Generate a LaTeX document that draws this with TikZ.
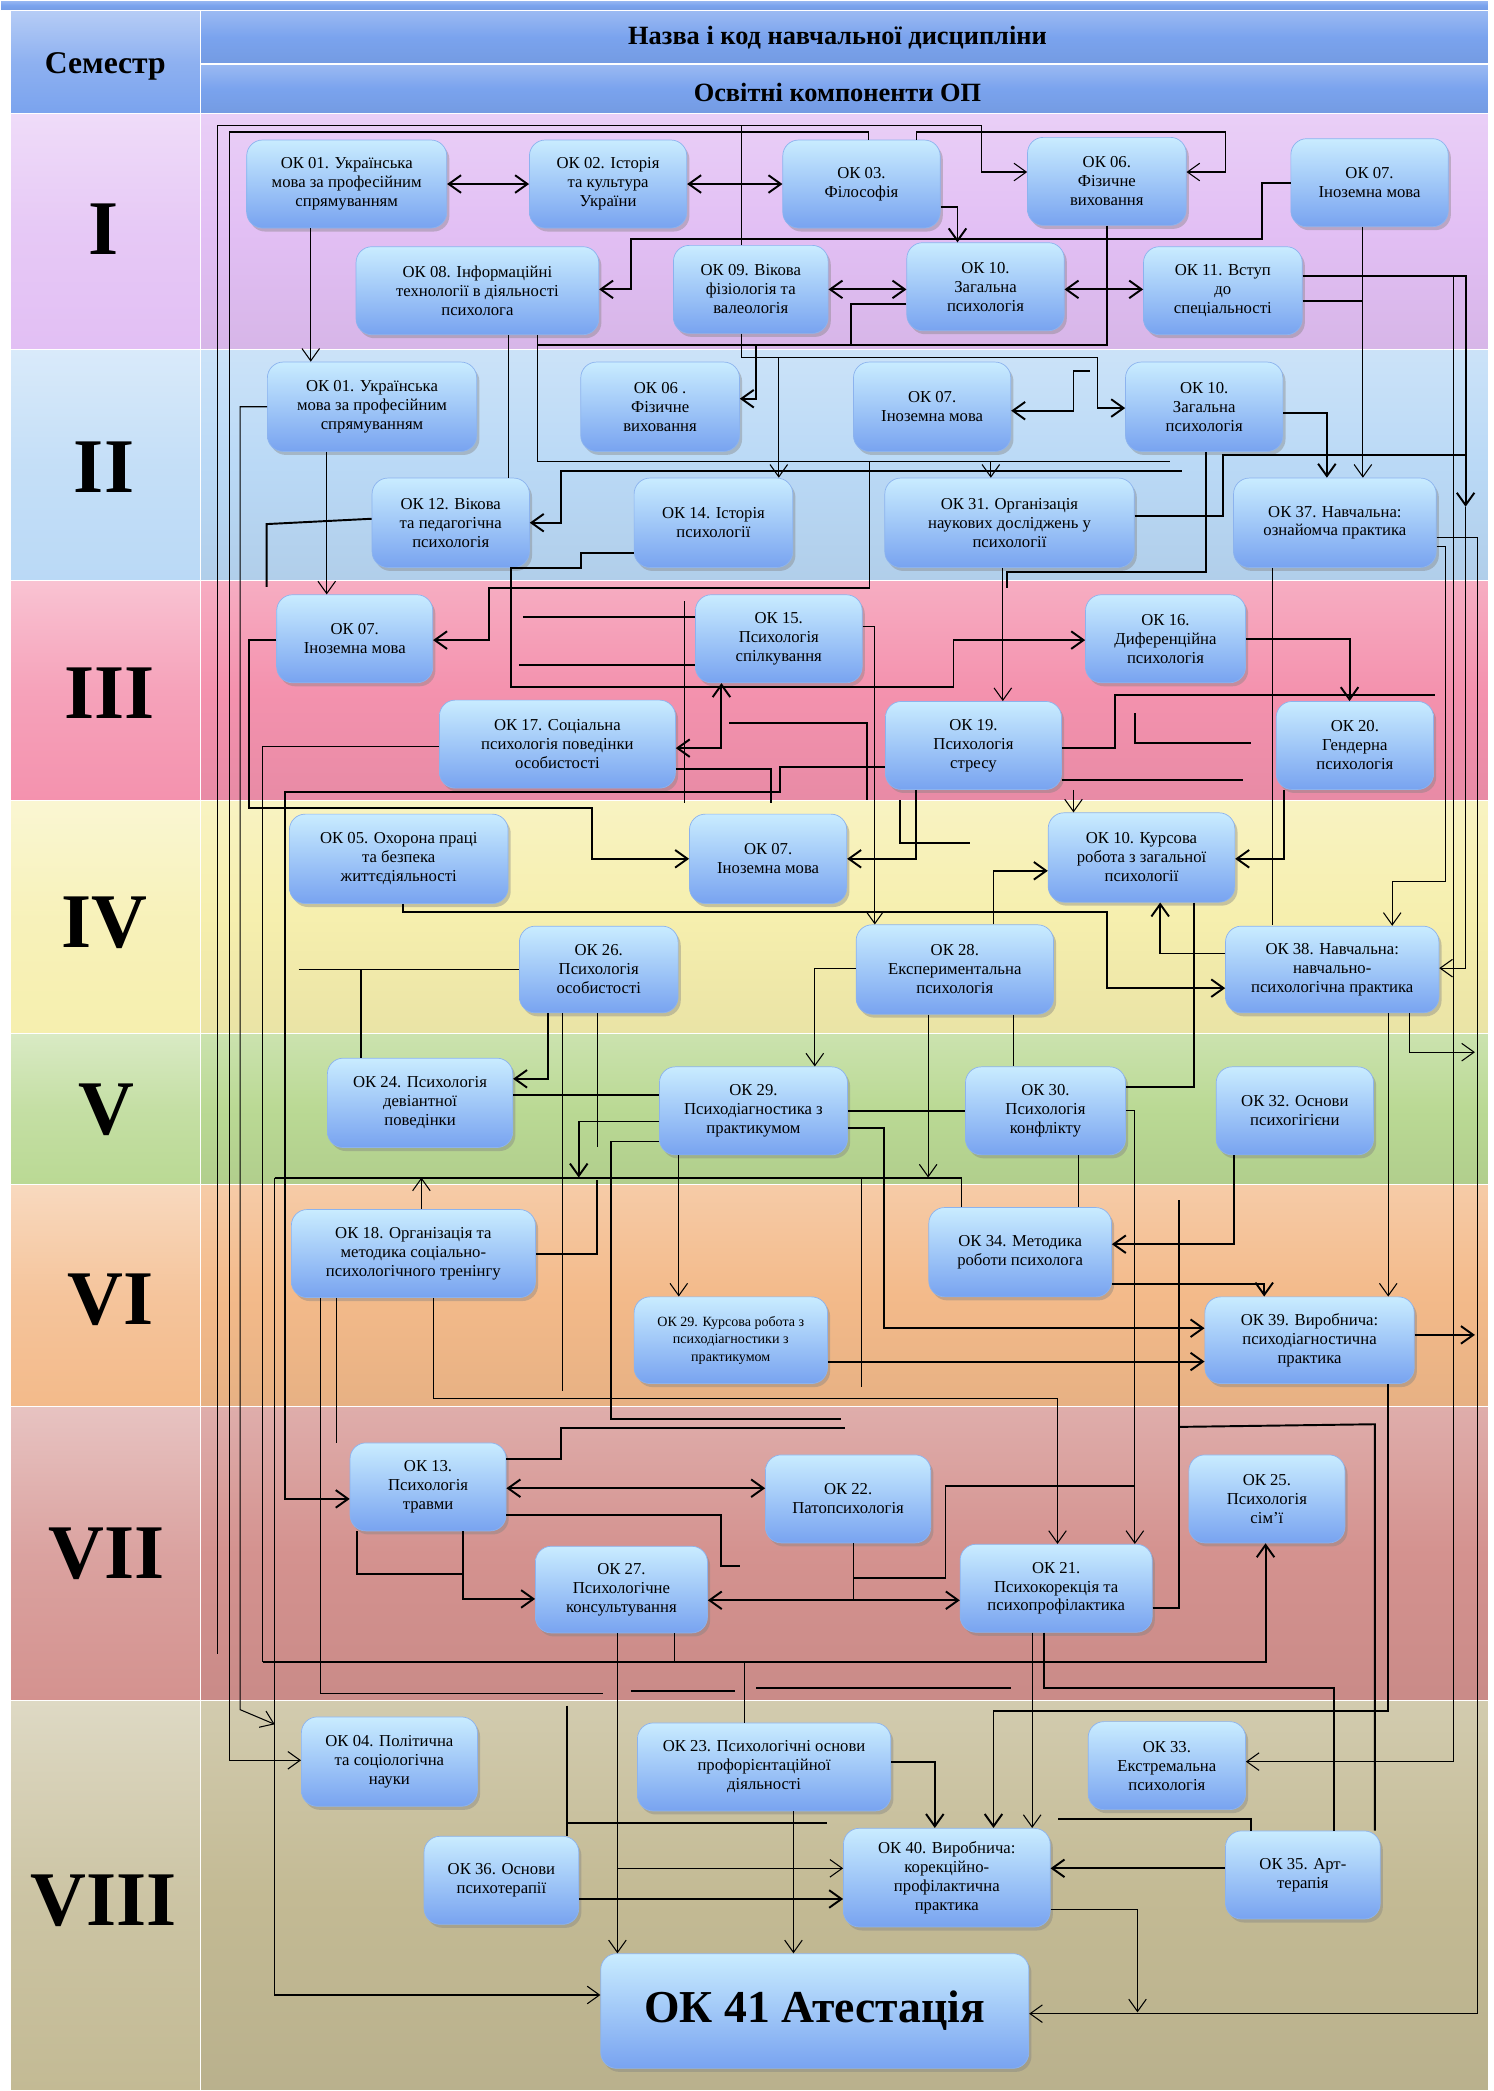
\documentclass[tikz,border=0pt]{standalone}
\usepackage{fontspec}
\setmainfont{Liberation Serif}
\usetikzlibrary{arrows.meta,shadows}
\definecolor{hdr}{HTML}{7AA3EE}
\definecolor{semI}{HTML}{E2BFF4}
\definecolor{semII}{HTML}{BAD9F6}
\definecolor{semIII}{HTML}{F492AE}
\definecolor{semIV}{HTML}{F6EFAE}
\definecolor{semV}{HTML}{BAD994}
\definecolor{semVI}{HTML}{F3BA8A}
\definecolor{semVII}{HTML}{D4928F}
\definecolor{semVIII}{HTML}{C3BA94}
\definecolor{okTop}{HTML}{C9ECFF}
\definecolor{okBot}{HTML}{78A3F0}
\definecolor{okEdge}{HTML}{8CB3EE}
\newcommand\pu{0.026667cm}
\tikzset{
  okbox/.style={rounded corners=9pt,top color=okTop,bottom color=okBot,draw=okEdge,line width=0.4pt,
    drop shadow={shadow xshift=1.5pt,shadow yshift=-2pt,opacity=0.4},
    align=center,inner sep=1pt,font=\fontsize{9.5}{10.8}\selectfont},
  band/.style={top color=#1!75!white,bottom color=#1!95!black,middle color=#1,draw=white,line width=0.6pt},
  cell/.style={top color=#1!55!white,bottom color=#1,middle color=#1!85!white,draw=white,line width=0.6pt},
  semtxt/.style={font=\fontsize{44}{44}\selectfont\bfseries},
  hdrtxt/.style={font=\fontsize{15}{17}\selectfont\bfseries},
  ln/.style={line width=0.6pt},
  thk/.style={line width=1.1pt},
}
\begin{document}
\begin{tikzpicture}
[x=0.026667cm,y=-0.026667cm,>={Straight Barb[length=7pt,width=10pt]}]
\useasboundingbox (0,0) rectangle (1120,1568);
\fill[white] (0,0) rectangle (1120,1568);

% header
\shadedraw[band=hdr] (0,0) rectangle (1116,8);
\shadedraw[cell=hdr] (8,8) rectangle (150,85);
\shadedraw[band=hdr] (150,8) rectangle (1116,48);
\shadedraw[band=hdr] (150,48) rectangle (1116,85);
\node[font=\fontsize{18}{20}\selectfont\bfseries] (sem) at (79,50) {Семестр};
\node[hdrtxt] (hname) at (628,28) {Назва і код навчальної дисципліни};
\node[hdrtxt] (hcomp) at (628,69) {Освітні компоненти ОП};

% semesters
\shadedraw[cell=semI] (8,85) rectangle (150,262);
\shadedraw[band=semI] (150,85) rectangle (1116,262);
\shadedraw[cell=semII] (8,262) rectangle (150,435);
\shadedraw[band=semII] (150,262) rectangle (1116,435);
\shadedraw[cell=semIII] (8,435) rectangle (150,600);
\shadedraw[band=semIII] (150,435) rectangle (1116,600);
\shadedraw[cell=semIV] (8,600) rectangle (150,775);
\shadedraw[band=semIV] (150,600) rectangle (1116,775);
\shadedraw[cell=semV] (8,775) rectangle (150,888);
\shadedraw[band=semV] (150,775) rectangle (1116,888);
\shadedraw[cell=semVI] (8,888) rectangle (150,1055);
\shadedraw[band=semVI] (150,888) rectangle (1116,1055);
\shadedraw[cell=semVII] (8,1055) rectangle (150,1275);
\shadedraw[band=semVII] (150,1055) rectangle (1116,1275);
\shadedraw[cell=semVIII] (8,1275) rectangle (150,1568);
\shadedraw[band=semVIII] (150,1275) rectangle (1116,1568);
\node[semtxt] (s1) at (78,172) {I};
\node[semtxt] (s2) at (78,350) {II};
\node[semtxt] (s3) at (82,520) {III};
\node[semtxt] (s4) at (78,692) {IV};
\node[semtxt] (s5) at (80,832) {V};
\node[semtxt] (s6) at (83,975) {VI};
\node[semtxt] (s7) at (80,1165) {VII};
\node[semtxt] (s8) at (78,1425) {VIII};

% I
\node[okbox,minimum width=150*\pu,minimum height=66*\pu] (a01) at (260,138) {ОК 01. Українська\\мова за професійним\\спрямуванням};
\node[okbox,minimum width=118*\pu,minimum height=66*\pu] (a02) at (456,138) {ОК 02. Історія\\та культура\\України};
\node[okbox,minimum width=118*\pu,minimum height=66*\pu] (a03) at (646,138) {ОК 03.\\Філософія};
\node[okbox,minimum width=119*\pu,minimum height=66*\pu] (a06) at (830,136) {ОК 06.\\Фізичне\\виховання};
\node[okbox,minimum width=118*\pu,minimum height=66*\pu] (a07) at (1027,137) {ОК 07.\\Іноземна мова};
\node[okbox,minimum width=182*\pu,minimum height=66*\pu] (a08) at (358,218) {ОК 08. Інформаційні\\технології в діяльності\\психолога};
\node[okbox,minimum width=116*\pu,minimum height=66*\pu] (a09) at (563,217) {ОК 09. Вікова\\фізіологія та\\валеологія};
\node[okbox,minimum width=118*\pu,minimum height=66*\pu] (a10) at (739,215) {ОК 10.\\Загальна\\психологія};
\node[okbox,minimum width=119*\pu,minimum height=66*\pu] (a11) at (917,218) {ОК 11. Вступ\\до\\спеціальності};

% II
\node[okbox,minimum width=157*\pu,minimum height=67*\pu] (b01) at (279,305) {ОК 01. Українська\\мова за професійним\\спрямуванням};
\node[okbox,minimum width=119*\pu,minimum height=67*\pu] (b06) at (495,305) {ОК 06 .\\Фізичне\\виховання};
\node[okbox,minimum width=118*\pu,minimum height=67*\pu] (b07) at (699,305) {ОК 07.\\Іноземна мова};
\node[okbox,minimum width=118*\pu,minimum height=67*\pu] (b10) at (903,305) {ОК 10.\\Загальна\\психологія};
\node[okbox,minimum width=118*\pu,minimum height=67*\pu] (b12) at (338,392) {ОК 12. Вікова\\та педагогічна\\психологія};
\node[okbox,minimum width=119*\pu,minimum height=67*\pu] (b14) at (535,392) {ОК 14. Історія\\психології};
\node[okbox,minimum width=187*\pu,minimum height=67*\pu] (b31) at (757,392) {ОК 31. Організація\\наукових досліджень у\\психології};
\node[okbox,minimum width=152*\pu,minimum height=67*\pu] (b37) at (1001,392) {ОК 37. Навчальна:\\ознайомча практика};

% III
\node[okbox,minimum width=117*\pu,minimum height=66*\pu] (c07) at (266,479) {ОК 07.\\Іноземна мова};
\node[okbox,minimum width=125*\pu,minimum height=66*\pu] (c15) at (584,479) {ОК 15.\\Психологія\\спілкування};
\node[okbox,minimum width=120*\pu,minimum height=66*\pu] (c16) at (874,479) {ОК 16.\\Диференційна\\психологія};
\node[okbox,minimum width=177*\pu,minimum height=66*\pu] (c17) at (418,558) {ОК 17. Соціальна\\психологія поведінки\\особистості};
\node[okbox,minimum width=132*\pu,minimum height=66*\pu] (c19) at (730,559) {ОК 19.\\Психологія\\стресу};
\node[okbox,minimum width=118*\pu,minimum height=66*\pu] (c20) at (1016,559) {ОК 20.\\Гендерна\\психологія};

% IV
\node[okbox,minimum width=164*\pu,minimum height=67*\pu] (d05) at (299,644) {ОК 05. Охорона праці\\та безпека\\життєдіяльності};
\node[okbox,minimum width=118*\pu,minimum height=67*\pu] (d07) at (576,644) {ОК 07.\\Іноземна мова};
\node[okbox,minimum width=140*\pu,minimum height=67*\pu] (d10) at (856,643) {ОК 10. Курсова\\робота з загальної\\психології};
\node[okbox,minimum width=119*\pu,minimum height=65*\pu] (d26) at (449,727) {ОК 26.\\Психологія\\особистості};
\node[okbox,minimum width=148*\pu,minimum height=67*\pu] (d28) at (716,727) {ОК 28.\\Експериментальна\\психологія};
\node[okbox,minimum width=160*\pu,minimum height=65*\pu] (d38) at (999,727) {ОК 38. Навчальна:\\навчально-\\психологічна практика};

% V
\node[okbox,minimum width=139*\pu,minimum height=67*\pu] (e24) at (315,827) {ОК 24. Психологія\\девіантної\\поведінки};
\node[okbox,minimum width=141*\pu,minimum height=66*\pu] (e29) at (565,833) {ОК 29.\\Психодіагностика з\\практикумом};
\node[okbox,minimum width=120*\pu,minimum height=66*\pu] (e30) at (784,833) {ОК 30.\\Психологія\\конфлікту};
\node[okbox,minimum width=118*\pu,minimum height=66*\pu] (e32) at (971,833) {ОК 32. Основи\\психогігієни};

% VI
\node[okbox,minimum width=183*\pu,minimum height=66*\pu] (f18) at (310,940) {ОК 18. Організація та\\методика соціально-\\психологічного тренінгу};
\node[okbox,minimum width=137*\pu,minimum height=67*\pu] (f34) at (765,939) {ОК 34. Методика\\роботи психолога};
\node[okbox,minimum width=145*\pu,minimum height=65*\pu,font=\fontsize{8}{10}\selectfont] (f29) at (548,1005) {ОК 29. Курсова робота з\\психодіагностики з\\практикумом};
\node[okbox,minimum width=157*\pu,minimum height=65*\pu] (f39) at (982,1005) {ОК 39. Виробнича:\\психодіагностична\\практика};

% VII
\node[okbox,minimum width=117*\pu,minimum height=66*\pu] (g13) at (321,1115) {ОК 13.\\Психологія\\травми};
\node[okbox,minimum width=124*\pu,minimum height=66*\pu] (g22) at (636,1124) {ОК 22.\\Патопсихологія};
\node[okbox,minimum width=117*\pu,minimum height=66*\pu] (g25) at (950,1124) {ОК 25.\\Психологія\\сім’ї};
\node[okbox,minimum width=129*\pu,minimum height=65*\pu] (g27) at (466,1192) {ОК 27.\\Психологічне\\консультування};
\node[okbox,minimum width=144*\pu,minimum height=66*\pu] (g21) at (792,1191) {ОК 21.\\Психокорекція та\\психопрофілактика};

% VIII
\node[okbox,minimum width=132*\pu,minimum height=67*\pu] (h04) at (292,1321) {ОК 04. Політична\\та соціологічна\\науки};
\node[okbox,minimum width=190*\pu,minimum height=66*\pu] (h23) at (573,1325) {ОК 23. Психологічні основи\\профорієнтаційної\\діяльності};
\node[okbox,minimum width=118*\pu,minimum height=66*\pu] (h33) at (875,1324) {ОК 33.\\Екстремальна\\психологія};
\node[okbox,minimum width=116*\pu,minimum height=66*\pu] (h36) at (376,1410) {ОК 36. Основи\\психотерапії};
\node[okbox,minimum width=155*\pu,minimum height=74*\pu] (h40) at (710,1408) {ОК 40. Виробнича:\\корекційно-\\профілактична\\практика};
\node[okbox,minimum width=116*\pu,minimum height=66*\pu] (h35) at (977,1406) {ОК 35. Арт-\\терапія};
\node[okbox,minimum width=321*\pu,minimum height=86*\pu,font=\fontsize{26}{28}\selectfont\bfseries] (h41) at (611,1508) {ОК 41 Атестація};

% connectors, I
\coordinate (topA) at (163,94);
\coordinate (topB) at (172,99);
\coordinate (rj) at (1090,207);
\draw[<->,thk] (a01) -- (a02);
\draw[<->,thk] (a02) -- (a03);
\draw[->,thk] (a03.east |- 0,155) -| (a10.north -| 718,0);
\draw[->,ln] (topA) -| (736,129) -- (a06.west |- 0,129);
\draw[ln] (a03.north -| 651,0) -- (651,99) -- (topB);
\draw[->,ln] (a03.north -| 687,0) -- (687,99) -| (919,129) -- (a06.east |- 0,129);
\draw[ln] (a09.north -| 556,0) -- (556,94);
\draw[->,thk] (a07.west |- 0,137) -| (946,179) -- (473,179) |- (a08.east |- 0,217);
\draw[<->,thk] (a09.east |- 0,217) -- (a10.west |- 0,217);
\draw[<->,thk] (a10.east |- 0,217) -- (a11.west |- 0,217);
\draw[thk] (a10.west |- 0,228) -- (638,228) -- (638,259);
\draw[->,thk] (a06.south) -- (830,259) -- (567,259) |- (b06.east |- 0,299);
\draw[thk] (a11.east |- 0,226) -- (1022,226);
\draw[->,thk] (a11.east |- 0,207) -- (1099,207) -- (1099,380);
\draw[->,ln] (a01.south -| 233,0) -- (b01.north -| 233,0);
\draw[ln] (a08.south -| 381,0) -- (b12.north -| 381,0);
\draw[ln] (a08.south -| 403,0) -- (403,346) -- (877,346);
\draw[thk] (403,259) -- (567,259);

% II
\draw[ln] (a09.south -| 556,0) -- (556,268) -- (823,268);
\draw[->,thk] (823,268) |- (b10.west |- 0,306);
\draw[->,ln] (584,268) -- (b14.north -| 584,0);
\draw[->,thk] (817,278) -- (805,278) -- (805,308) -- (b07.east |- 0,308);
\draw[->,thk] (b10.east |- 0,310) -| (b37.north -| 995,0);
\draw[thk] (b31.east |- 0,387) -- (917,387) -- (917,341) -- (1099,341);
\draw[->,ln] (a07.south -| 1022,0) -- (b37.north -| 1022,0);
\draw[->,thk] (886,353) -- (421,353) |- (b12.east |- 0,392);
\draw[->,ln] (743,346) -- (b31.north -| 743,0);
\draw[thk] (b12.west |- 0,389) -- (200,393) -- (200,440);
\draw[->,thk] (b14.west |- 0,415) -- (436,415) -- (436,426) -- (383,426) -- (383,515) -- (715,515) |- (c16.west |- 0,480);
\draw[thk] (b10.south -| 904,0) -- (904,429) -- (755,429) -- (755,441);
\draw[ln] (b37.south -| 954,0) -- (954,694);

% III
\draw[->,ln] (b01.south -| 245,0) -- (c07.north -| 245,0);
\draw[->,thk] (652,346) -- (652,441) -- (367,441) |- (c07.east |- 0,480);
\draw[<->,thk] (c17.east |- 0,561) -| (c15.south -| 541,0);
\draw[->,ln] (b31.south -| 752,0) -- (c19.north -| 752,0);
\draw[->,thk] (c16.east |- 0,479) -| (c20.north -| 1012,0);
\draw[->,ln] (c19.south -| 805,0) -- (d10.north -| 805,0);
\draw[thk] (c19.east |- 0,561) -- (836,561) -- (836,521) -- (1076,521);
\draw[thk] (851,535) -- (851,557) -- (938,557);
\draw[thk] (c19.east |- 0,585) -- (932,585);
\draw[thk] (392,463) -- (c15.west |- 0,463);
\draw[thk] (389,499) -- (c15.west |- 0,499);
\draw[ln] (513,451) -- (513,602);
\draw[thk] (c17.east |- 0,577) -- (578,577) -- (578,602);
\draw[thk] (547,542) -- (650,542) -- (650,600);
\draw[ln] (c17.west |- 0,560) -- (197,560) -- (197,1246);

% IV
\draw[->,thk] (c07.west |- 0,480) -- (187,480) -- (187,606) -- (444,606) |- (d07.west |- 0,644);
\draw[->,thk] (c19.south -| 687,0) |- (d07.east |- 0,644);
\draw[->,ln] (c15.east |- 0,470) -- (656,470) -- (d28.north -| 656,0);
\draw[->,thk] (d28.north -| 745,0) |- (d10.west |- 0,653);
\draw[->,thk] (d38.west |- 0,715) -| (d10.south -| 870,0);
\draw[->,thk] (d05.south -| 302,0) -- (302,684) -- (830,684) |- (d38.west |- 0,741);
\draw[->,ln] (b37.east |- 0,410) -- (1084,410) -- (1084,661) -- (1044,661) -- (d38.north -| 1044,0);
\draw[->,thk] (c20.south -| 963,0) |- (d10.east |- 0,644);
\draw[->,ln] (1099,380) |- (d38.east |- 0,726);
\draw[thk] (675,600) -- (675,632) -- (727,632);
\draw[thk] (224,727) -- (d26.west |- 0,727);
\draw[thk] (271,727) -- (e24.north -| 271,0);

% V
\coordinate (barL) at (206,883);
\coordinate (barR) at (721,883);
\draw[->,thk] (d26.south -| 411,0) |- (e24.east |- 0,809);
\draw[->,ln] (d28.west |- 0,726) -| (e29.north -| 611,0);
\draw[thk] (barL) -- (barR) -- (f34.north -| barR);
\draw[->,ln] (d28.south -| 696,0) -- (696,0 |- barL);
\draw[->,thk] (e29.west |- 0,841) -| (434,0 |- barL);
\draw[->,ln] (f18.north -| 316,0) -- (316,0 |- barL);
\draw[->,ln] (d38.south -| 1057,0) |- (1106,789);
\draw[thk] (e24.east |- 0,821) -- (e29.west |- 0,821);
\draw[thk] (e29.east |- 0,833) -- (e30.west |- 0,833);
\draw[ln] (d28.south -| 760,0) -- (e30.north -| 760,0);
\draw[thk] (d10.south -| 895,0) |- (e30.east |- 0,815);
\draw[ln] (d26.south -| 422,0) -- (422,1043);
\draw[ln] (d26.south -| 448,0) -- (448,860);
\draw[thk] (e29.west |- 0,856) -- (458,856) -- (458,1064) -- (631,1064);

% VI
\draw[->,thk] (e32.south -| 925,0) |- (f34.east |- 0,933);
\draw[->,thk] (f34.east |- 0,963) -| (f39.north -| 948,0);
\draw[->,ln] (d38.south -| 1041,0) -- (f39.north -| 1041,0);
\draw[->,thk] (e29.east |- 0,846) -- (663,846) |- (f39.west |- 0,996);
\draw[->,thk] (f29.east |- 0,1021) -- (f39.west |- 0,1021);
\draw[->,thk] (f39.east |- 0,1001) -- (1106,1001);
\draw[->,ln] (e29.south -| 509,0) -- (f29.north -| 509,0);
\draw[thk] (f18.east |- 0,940) -- (448,940) -- (448,885);
\draw[ln] (e30.south -| 809,0) -- (f34.north -| 809,0);
\draw[ln] (646,883) -- (646,1040);
\draw[->,ln] (e30.east |- 0,833) -| (g21.north -| 851,0);

% VII
\draw[<->,thk] (g13.east |- 0,1116) -- (g22.west |- 0,1116);
\draw[->,thk] (c19.west |- 0,575) -- (585,575) -- (585,594) -- (214,594) |- (g13.west |- 0,1124);
\draw[->,thk] (g13.south -| 347,0) |- (g27.west |- 0,1199);
\draw[thk] (g13.south -| 268,0) -- (268,1180) -- (347,1180);
\draw[<->,thk] (g27.east |- 0,1200) -- (g21.west |- 0,1200);
\draw[->,ln] (f18.south -| 325,0) -- (325,1049) -| (g21.north -| 793,0);
\draw[ln] (g27.south -| 506,0) -- (506,1246);
\draw[->,thk] (197,1246) -| (g25.south -| 949,0);
\draw[thk] (g21.east |- 0,1206) -- (884,1206) -- (884,900);
\draw[thk] (g22.south -| 640,0) -- (640,1200);
\draw[thk] (640,1183) -- (709,1183) -- (709,1114) -- (851,1114);
\draw[thk] (g13.east |- 0,1136) -- (541,1136) -- (541,1174) -- (555,1174);
\draw[thk] (g13.east |- 0,1094) -- (421,1094) -- (421,1071) -- (634,1071);
\draw[thk] (884,1070) -- (1031,1068) -- (h35.north -| 1031,0);
\draw[thk] (g21.south -| 783,0) -- (783,1266) -- (1000,1266) -- (h35.north -| 1000,0);
\draw[ln] (f18.south -| 240,0) -- (240,1270) -- (452,1270);
\draw[ln] (f18.south -| 252,0) -- (252,1082);

% VIII
\draw[->,ln] (topB) -- (172,1320) -- (h04.west |- 0,1320);
\draw[->,ln] (b01.west |- 0,305) -- (180,305) -- (180,1282) -- (206,1293);
\draw[->,ln] (barL) -- (206,1496) -- (h41.west |- 0,1496);
\draw[ln] (topA) -- (163,1240);
\draw[->,ln] (rj) -- (1090,1321) -- (h33.east |- 0,1321);
\draw[->,ln] (g27.south -| 463,0) |- (h40.west |- 0,1401);
\draw[->,ln] (463,1401) -- (h41.north -| 463,0);
\draw[->,thk] (h36.east |- 0,1424) -- (h40.west |- 0,1424);
\draw[->,thk] (h35.west |- 0,1401) -- (h40.east |- 0,1401);
\draw[->,ln] (h23.south -| 595,0) -- (h41.north -| 595,0);
\draw[->,thk] (h23.east |- 0,1321) -| (h40.north -| 701,0);
\draw[->,thk] (f39.south -| 1041,0) -- (1041,1283) -| (h40.north -| 745,0);
\draw[->,ln] (g21.south -| 774,0) -- (h40.north -| 774,0);
\draw[->,ln] (h40.east |- 0,1432) -| (853,1509);
\draw[->,ln] (b37.east |- 0,403) -- (1108,403) |- (h41.east |- 0,1510);
\draw[thk] (425,1279) -- (h36.north -| 425,0);
\draw[thk] (425,1367) -- (620,1367);
\draw[thk] (h35.north -| 938,0) -- (938,1364) -- (793,1364);
\draw[ln] (h23.north -| 558,0) -- (558,1246);
\draw[thk] (473,1268) -- (551,1268);
\draw[thk] (567,1266) -- (758,1266);
\end{tikzpicture}
\end{document}
